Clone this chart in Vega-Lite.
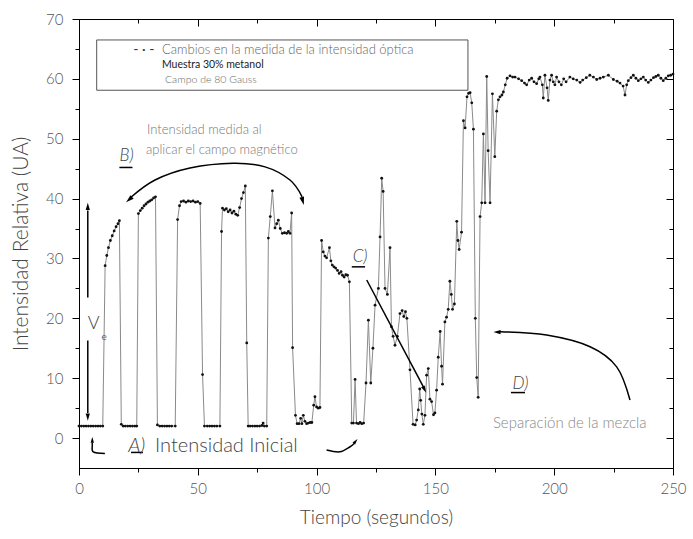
{
  "$schema": "https://vega.github.io/schema/vega-lite/v6.json",
  "width": 594,
  "height": 449,
  "autosize": {"type": "none"},
  "padding": {"left": 79, "top": 19, "right": 20, "bottom": 71},
  "background": "white",
  "config": {
    "view": {"stroke": "black", "strokeWidth": 1},
    "font": "Lato",
    "axis": {"domainColor": "black", "tickColor": "black", "labelColor": "#555", "labelFont": "Lato", "labelFontWeight": 300, "titleFont": "Lato", "titleFontWeight": 300, "titleColor": "#444", "grid": false, "labelFontSize": 15, "titleFontSize": 19}
  },
  "datasets": {
    "main": [
      {"t":0,"v":2},{"t":1,"v":2},{"t":2,"v":2},{"t":3,"v":2},{"t":4,"v":2},{"t":5,"v":2},{"t":6,"v":2},{"t":7,"v":2},{"t":8,"v":2},{"t":9,"v":2},{"t":10,"v":2},
      {"t":11,"v":28.8},{"t":11.7,"v":30.5},{"t":12.4,"v":31.8},{"t":13.2,"v":33},{"t":14,"v":33.8},{"t":14.8,"v":34.6},{"t":15.6,"v":35.3},{"t":16.4,"v":35.8},{"t":17,"v":36.3},
      {"t":17.8,"v":2.3},{"t":18.6,"v":2},{"t":19.5,"v":2},{"t":20.5,"v":2},{"t":21.5,"v":2},{"t":22.5,"v":2},{"t":23.5,"v":2},{"t":24.3,"v":2},
      {"t":25,"v":37.5},{"t":25.8,"v":38},{"t":26.6,"v":38.4},{"t":27.4,"v":38.8},{"t":28.2,"v":39.1},{"t":29,"v":39.4},{"t":29.8,"v":39.6},{"t":30.6,"v":39.8},{"t":31.4,"v":40.1},{"t":32.2,"v":40.3},
      {"t":33,"v":2.2},{"t":34,"v":2},{"t":35,"v":2},{"t":36,"v":2},{"t":37,"v":2},{"t":38,"v":2},{"t":39,"v":2},{"t":40.5,"v":2},
      {"t":41.5,"v":36.5},{"t":42.3,"v":38.8},{"t":43,"v":39.5},{"t":44,"v":39.6},{"t":45,"v":39.4},{"t":46,"v":39.6},{"t":47,"v":39.5},{"t":48,"v":39.6},{"t":49,"v":39.4},{"t":50,"v":39.5},{"t":51,"v":39.2},
      {"t":52,"v":10.6},{"t":52.8,"v":2},{"t":54,"v":2},{"t":55,"v":2},{"t":56,"v":2},{"t":57,"v":2},{"t":58,"v":2},{"t":59.3,"v":2},
      {"t":60,"v":34.5},{"t":60.4,"v":38.4},{"t":61.2,"v":38.1},{"t":62,"v":38.3},{"t":62.8,"v":37.8},{"t":63.6,"v":38.1},{"t":64.4,"v":37.6},{"t":65.2,"v":37.9},{"t":66,"v":37.4},{"t":66.8,"v":37.2},{"t":67.6,"v":38.5},{"t":68.4,"v":40},{"t":69.2,"v":41},{"t":70,"v":42.1},
      {"t":70.6,"v":15.9},{"t":71.2,"v":2},{"t":72,"v":2},{"t":73,"v":2},{"t":74,"v":2},{"t":75,"v":2},{"t":76,"v":2},{"t":77,"v":2.1},{"t":77.5,"v":2.5},{"t":78,"v":2},{"t":79,"v":2},
      {"t":79.7,"v":33.4},{"t":80.5,"v":37},{"t":81.4,"v":41.3},{"t":82.5,"v":35.1},{"t":83.2,"v":35.8},{"t":83.9,"v":36.4},{"t":84.7,"v":35},{"t":85.6,"v":34.2},{"t":86.5,"v":34.3},{"t":87.4,"v":34.2},{"t":88.1,"v":34.5},{"t":88.8,"v":34.2},{"t":89.5,"v":37.6},
      {"t":89.9,"v":15.1},{"t":91.1,"v":3.8},{"t":91.8,"v":2.4},{"t":92.6,"v":2.4},{"t":93.3,"v":3.3},{"t":93.8,"v":2.4},{"t":94.4,"v":3.8},{"t":95.1,"v":2.8},{"t":95.8,"v":2.4},{"t":96.5,"v":2.5},{"t":97.3,"v":2.6},{"t":98,"v":2.6},{"t":98.8,"v":5.5},{"t":99.3,"v":6.9},{"t":100,"v":5.2},{"t":100.7,"v":5},{"t":101.4,"v":5.1},
      {"t":102.1,"v":33},{"t":102.8,"v":31.1},{"t":103.5,"v":30.4},{"t":104.2,"v":30.1},{"t":105.4,"v":31.8},{"t":106,"v":29.6},{"t":106.6,"v":28.9},{"t":107.3,"v":28.6},{"t":108,"v":28.4},{"t":108.8,"v":28},{"t":109.5,"v":27.5},{"t":110.3,"v":27.8},{"t":110.9,"v":27.2},{"t":111.6,"v":26.9},{"t":112.3,"v":27.3},{"t":113,"v":27.2},{"t":113.8,"v":26.1},
      {"t":114.8,"v":2.5},{"t":115.5,"v":2.5},{"t":116.2,"v":9.8},{"t":116.8,"v":2.5},{"t":117.6,"v":2.4},{"t":118.3,"v":2.6},{"t":119,"v":2.4},{"t":119.8,"v":2.5},
      {"t":120.8,"v":9.2},{"t":121.8,"v":19.7},{"t":122.8,"v":9.2},{"t":123.7,"v":15},{"t":124.6,"v":22.2},{"t":126,"v":25},{"t":126.7,"v":33.6},{"t":127.4,"v":43.4},{"t":128,"v":41.2},{"t":128.8,"v":25},{"t":129.8,"v":24},{"t":130.9,"v":31.8},{"t":131.5,"v":18.6},{"t":132.2,"v":17},{"t":133,"v":15.5},{"t":134,"v":17},{"t":135.1,"v":20.8},{"t":136,"v":21.3},{"t":136.7,"v":20.3},{"t":137.4,"v":21.1},{"t":138,"v":20},
      {"t":139.3,"v":11.4},{"t":140.6,"v":2.3},{"t":141.5,"v":2.2},{"t":142.1,"v":3},{"t":142.8,"v":4.7},{"t":143.4,"v":8.2},{"t":143.8,"v":6.3},{"t":144.3,"v":4},{"t":144.9,"v":2.3},{"t":145.6,"v":3.8},{"t":146.3,"v":10.5},{"t":147,"v":11.6},{"t":147.7,"v":6.5},{"t":148.4,"v":6.1},{"t":149.2,"v":3.9},{"t":149.8,"v":4.2},{"t":150.5,"v":8},{"t":151.2,"v":13.5},{"t":152,"v":17.8},{"t":152.6,"v":12},{"t":153,"v":9},{"t":154,"v":19.4},{"t":154.7,"v":20.2},{"t":155.4,"v":21.5},{"t":156.1,"v":26.2},{"t":156.7,"v":24},{"t":157.2,"v":21.5},{"t":158,"v":22.4},{"t":159,"v":36.2},{"t":159.5,"v":33},{"t":160,"v":31.5},{"t":161,"v":34.4},{"t":161.8,"v":53},{"t":162.5,"v":51.8},{"t":163.3,"v":57},{"t":164,"v":57.6},{"t":164.6,"v":57.7},{"t":165.3,"v":56},{"t":166,"v":51.6},{"t":166.8,"v":20},{"t":167.4,"v":10.1},{"t":168,"v":6.8},{"t":168.8,"v":37},{"t":169.5,"v":39.3},{"t":170.2,"v":50.8},{"t":170.9,"v":39.3},{"t":171.6,"v":60.4},{"t":172.2,"v":48},{"t":173,"v":39.3},{"t":174,"v":57.5},{"t":175,"v":47},{"t":175.8,"v":54.6},{"t":176.5,"v":56.5},{"t":177.2,"v":57},{"t":178,"v":57.3},{"t":178.6,"v":57.8},{"t":179.4,"v":59},{"t":180.2,"v":60.1},{"t":181.4,"v":60.5},
      {"t":182.5,"v":60.3},{"t":183.5,"v":60.3},{"t":185,"v":60},{"t":186.3,"v":59.7},{"t":187.5,"v":59.3},{"t":188.4,"v":59},{"t":189.5,"v":59.8},{"t":190.5,"v":60.1},{"t":191.5,"v":59.5},{"t":192.6,"v":59.2},{"t":193.5,"v":60},{"t":194,"v":60.3},{"t":195,"v":59},{"t":195.4,"v":56.8},{"t":196.1,"v":60.6},{"t":197,"v":58.5},{"t":197.5,"v":56.4},{"t":198.2,"v":59.8},{"t":198.9,"v":60.6},{"t":199.6,"v":59.5},{"t":200.3,"v":59},{"t":201,"v":60.3},{"t":202,"v":59.5},{"t":203,"v":59},{"t":204,"v":60},{"t":205,"v":59.5},{"t":206.6,"v":60.3},{"t":208,"v":60},{"t":209.5,"v":59.8},{"t":210.9,"v":59.4},{"t":212,"v":59.8},{"t":213.5,"v":60.2},{"t":215,"v":60.6},{"t":216.5,"v":60.3},{"t":217.9,"v":59.9},{"t":219.3,"v":60.1},{"t":220.7,"v":60.3},{"t":222.8,"v":60.6},{"t":224.9,"v":59.9},{"t":226.5,"v":59.6},{"t":227.7,"v":59.3},{"t":229,"v":58.8},{"t":229.8,"v":57.3},{"t":230.5,"v":59},{"t":231.2,"v":59.7},{"t":232.3,"v":60.2},{"t":233.3,"v":60.6},{"t":234.4,"v":60.1},{"t":235.4,"v":59.7},{"t":236.5,"v":60},{"t":237.5,"v":60.3},{"t":238.5,"v":59.8},{"t":239.6,"v":59.4},{"t":240.7,"v":59.8},{"t":241.8,"v":60.2},{"t":242.8,"v":60.4},{"t":243.8,"v":60.6},{"t":244.9,"v":60.1},{"t":245.9,"v":59.7},{"t":247,"v":60.1},{"t":248,"v":60.5},{"t":249,"v":60.6},{"t":250,"v":60.8}
    ],
    "segs": [
      {"id":"ve1","i":0,"t":3.7,"v":38.0},{"id":"ve1","i":1,"t":3.7,"v":23.5},
      {"id":"ve2","i":0,"t":3.7,"v":16.3},{"id":"ve2","i":1,"t":3.7,"v":4.2},
      {"id":"carr","i":0,"t":121.1,"v":26.4},{"id":"carr","i":1,"t":145.0,"v":8.5},
      {"id":"uB","i":0,"t":17,"v":45.2},{"id":"uB","i":1,"t":22.5,"v":45.2},
      {"id":"uC","i":0,"t":114.8,"v":28.6},{"id":"uC","i":1,"t":120.4,"v":28.6},
      {"id":"uD","i":0,"t":181.8,"v":7.6},{"id":"uD","i":1,"t":187.7,"v":7.6},
      {"id":"uA","i":0,"t":21.9,"v":-2.4},{"id":"uA","i":1,"t":26.9,"v":-2.4}
    ],
    "curves": [
      {"id":"b","i":0,"t":21.5,"v":40.1},{"id":"b","i":1,"t":32,"v":43.1},{"id":"b","i":2,"t":46.7,"v":45.1},{"id":"b","i":3,"t":64.8,"v":45.9},{"id":"b","i":4,"t":78.3,"v":45.3},{"id":"b","i":5,"t":88.8,"v":43.1},{"id":"b","i":6,"t":93.9,"v":40.3},
      {"id":"d","i":0,"t":231.9,"v":6.35},{"id":"d","i":1,"t":226.3,"v":11.9},{"id":"d","i":2,"t":215.1,"v":15.25},{"id":"d","i":3,"t":196.8,"v":17.2},{"id":"d","i":4,"t":177.2,"v":17.75},
      {"id":"al","i":0,"t":10.9,"v":-2.56},{"id":"al","i":1,"t":6.0,"v":-2.29},{"id":"al","i":2,"t":5.6,"v":-1.17},{"id":"al","i":3,"t":5.6,"v":-0.75},
      {"id":"ar","i":0,"t":104.2,"v":-2.0},{"id":"ar","i":1,"t":109.8,"v":-2.3},{"id":"ar","i":2,"t":114.1,"v":-1.45},{"id":"ar","i":3,"t":115.8,"v":-0.9}
    ]
  },
  "layer": [
    {
      "layer": [
        {
          "data": {"values": [{"t": 7.45, "t2": 163.7, "v": 58.1, "v2": 66.5}]},
          "mark": {"type": "rect", "fill": "white", "stroke": "#555", "strokeWidth": 1},
          "encoding": {
            "x": {"field": "t", "type": "quantitative", "scale": {"domain": [0, 250], "nice": false, "zero": false},
              "axis": {"orient": "top", "values": [0,25,50,75,100,125,150,175,200,225,250], "labelExpr": "''", "title": null, "domain": false, "ticks": true, "tickSize": {"condition": {"test": "datum.value % 50 === 0", "value": -7}, "value": -4}}},
            "y": {"field": "v", "type": "quantitative", "scale": {"domain": [-5, 70], "nice": false, "zero": false},
              "axis": {"orient": "right", "values": [0,5,10,15,20,25,30,35,40,45,50,55,60,65,70], "labelExpr": "''", "title": null, "domain": false, "ticks": true, "tickSize": {"condition": {"test": "datum.value % 10 === 0", "value": -7}, "value": -4}}},
            "x2": {"field": "t2"}, "y2": {"field": "v2"}}
        },
        {
          "data": {"name": "main"},
          "mark": {"type": "line", "color": "#8a8a8a", "strokeWidth": 1},
          "encoding": {
            "x": {"field": "t", "type": "quantitative", "scale": {"domain": [0, 250], "nice": false, "zero": false},
              "axis": {"orient": "bottom", "values": [0,25,50,75,100,125,150,175,200,225,250], "labelExpr": "datum.value % 50 === 0 ? datum.label : ''", "tickSize": {"condition": {"test": "datum.value % 50 === 0", "value": 7}, "value": 4}, "labelPadding": 6, "labelOverlap": false, "labelFlush": false, "title": "Tiempo (segundos)", "titlePadding": 12}},
            "y": {"field": "v", "type": "quantitative", "scale": {"domain": [-5, 70], "nice": false, "zero": false},
              "axis": {"orient": "left", "values": [0,5,10,15,20,25,30,35,40,45,50,55,60,65,70], "labelExpr": "datum.value % 10 === 0 ? datum.label : ''", "tickSize": {"condition": {"test": "datum.value % 10 === 0", "value": 7}, "value": 4}, "labelPadding": 9, "labelOverlap": false, "labelFlush": false, "title": "Intensidad Relativa (UA)", "titleFontSize": 21, "titlePadding": 14}}
          }
        }
      ],
      "resolve": {"axis": {"x": "independent", "y": "independent"}}
    },
    {
      "data": {"name": "main"},
      "mark": {"type": "point", "filled": true, "color": "#111", "size": 8, "opacity": 1},
      "encoding": {
        "x": {"field": "t", "type": "quantitative", "scale": {"domain": [0, 250], "nice": false, "zero": false}, "axis": null},
        "y": {"field": "v", "type": "quantitative", "scale": {"domain": [-5, 70], "nice": false, "zero": false}, "axis": null}
      }
    },
    {
      "data": {"name": "segs"},
      "mark": {"type": "line", "color": "black", "strokeWidth": 1.5},
      "encoding": {
        "x": {"field": "t", "type": "quantitative", "scale": {"domain": [0, 250], "nice": false, "zero": false}, "axis": null},
        "y": {"field": "v", "type": "quantitative", "scale": {"domain": [-5, 70], "nice": false, "zero": false}, "axis": null},
        "detail": {"field": "id"}, "order": {"field": "i", "type": "quantitative"}}
    },
    {
      "data": {"name": "curves"},
      "mark": {"type": "line", "color": "black", "strokeWidth": 1.5, "interpolate": "cardinal"},
      "encoding": {
        "x": {"field": "t", "type": "quantitative", "scale": {"domain": [0, 250], "nice": false, "zero": false}, "axis": null},
        "y": {"field": "v", "type": "quantitative", "scale": {"domain": [-5, 70], "nice": false, "zero": false}, "axis": null},
        "detail": {"field": "id"}, "order": {"field": "i", "type": "quantitative"}}
    },
    {
      "data": {"values": [{"t": 21.3, "v": 39.9}]},
      "mark": {"type": "point", "shape": "M0,-1L0.5,0.7L-0.5,0.7Z", "filled": true, "color": "black", "size": 90, "angle": 228, "opacity": 1},
      "encoding": {"x": {"field": "t", "type": "quantitative", "scale": {"domain": [0, 250], "nice": false, "zero": false}, "axis": null}, "y": {"field": "v", "type": "quantitative", "scale": {"domain": [-5, 70], "nice": false, "zero": false}, "axis": null}}
    },
    {
      "data": {"values": [{"t": 94.1, "v": 39.7}]},
      "mark": {"type": "point", "shape": "M0,-1L0.5,0.7L-0.5,0.7Z", "filled": true, "color": "black", "size": 90, "angle": 165, "opacity": 1},
      "encoding": {"x": {"field": "t", "type": "quantitative", "scale": {"domain": [0, 250], "nice": false, "zero": false}, "axis": null}, "y": {"field": "v", "type": "quantitative", "scale": {"domain": [-5, 70], "nice": false, "zero": false}, "axis": null}}
    },
    {
      "data": {"values": [{"t": 3.7, "v": 38.6}]},
      "mark": {"type": "point", "shape": "M0,-1L0.5,0.7L-0.5,0.7Z", "filled": true, "color": "black", "size": 70, "angle": 0, "opacity": 1},
      "encoding": {"x": {"field": "t", "type": "quantitative", "scale": {"domain": [0, 250], "nice": false, "zero": false}, "axis": null}, "y": {"field": "v", "type": "quantitative", "scale": {"domain": [-5, 70], "nice": false, "zero": false}, "axis": null}}
    },
    {
      "data": {"values": [{"t": 3.7, "v": 3.6}]},
      "mark": {"type": "point", "shape": "M0,-1L0.5,0.7L-0.5,0.7Z", "filled": true, "color": "black", "size": 70, "angle": 180, "opacity": 1},
      "encoding": {"x": {"field": "t", "type": "quantitative", "scale": {"domain": [0, 250], "nice": false, "zero": false}, "axis": null}, "y": {"field": "v", "type": "quantitative", "scale": {"domain": [-5, 70], "nice": false, "zero": false}, "axis": null}}
    },
    {
      "data": {"values": [{"t": 5.6, "v": -0.4}]},
      "mark": {"type": "point", "shape": "M0,-1L0.5,0.7L-0.5,0.7Z", "filled": true, "color": "black", "size": 45, "angle": 0, "opacity": 1},
      "encoding": {"x": {"field": "t", "type": "quantitative", "scale": {"domain": [0, 250], "nice": false, "zero": false}, "axis": null}, "y": {"field": "v", "type": "quantitative", "scale": {"domain": [-5, 70], "nice": false, "zero": false}, "axis": null}}
    },
    {
      "data": {"values": [{"t": 116.3, "v": -0.6}]},
      "mark": {"type": "point", "shape": "M0,-1L0.5,0.7L-0.5,0.7Z", "filled": true, "color": "black", "size": 45, "angle": 40, "opacity": 1},
      "encoding": {"x": {"field": "t", "type": "quantitative", "scale": {"domain": [0, 250], "nice": false, "zero": false}, "axis": null}, "y": {"field": "v", "type": "quantitative", "scale": {"domain": [-5, 70], "nice": false, "zero": false}, "axis": null}}
    },
    {
      "data": {"values": [{"t": 145.3, "v": 8.2}]},
      "mark": {"type": "point", "shape": "M0,-1L0.5,0.7L-0.5,0.7Z", "filled": true, "color": "black", "size": 70, "angle": 152, "opacity": 1},
      "encoding": {"x": {"field": "t", "type": "quantitative", "scale": {"domain": [0, 250], "nice": false, "zero": false}, "axis": null}, "y": {"field": "v", "type": "quantitative", "scale": {"domain": [-5, 70], "nice": false, "zero": false}, "axis": null}}
    },
    {
      "data": {"values": [{"t": 176.2, "v": 17.7}]},
      "mark": {"type": "point", "shape": "M0,-1L0.5,0.7L-0.5,0.7Z", "filled": true, "color": "black", "size": 70, "angle": 272, "opacity": 1},
      "encoding": {"x": {"field": "t", "type": "quantitative", "scale": {"domain": [0, 250], "nice": false, "zero": false}, "axis": null}, "y": {"field": "v", "type": "quantitative", "scale": {"domain": [-5, 70], "nice": false, "zero": false}, "axis": null}}
    },
    {
      "data": {"values": [{"t": 27.3, "v": 64.9, "label": "-  ·  -"}]},
      "mark": {"type": "text", "fontSize": 14, "color": "#333", "align": "center", "baseline": "middle", "font": "Lato"},
      "encoding": {"x": {"field": "t", "type": "quantitative", "scale": {"domain": [0, 250], "nice": false, "zero": false}, "axis": null}, "y": {"field": "v", "type": "quantitative", "scale": {"domain": [-5, 70], "nice": false, "zero": false}, "axis": null}, "text": {"field": "label"}}
    },
    {
      "data": {"values": [{"t": 34.9, "v": 64.8, "label": "Cambios en la medida de la intensidad óptica"}]},
      "mark": {"type": "text", "fontSize": 13, "color": "#666", "align": "left", "baseline": "middle", "font": "Lato", "fontWeight": 300},
      "encoding": {"x": {"field": "t", "type": "quantitative", "scale": {"domain": [0, 250], "nice": false, "zero": false}, "axis": null}, "y": {"field": "v", "type": "quantitative", "scale": {"domain": [-5, 70], "nice": false, "zero": false}, "axis": null}, "text": {"field": "label"}}
    },
    {
      "data": {"values": [{"t": 34.9, "v": 62.3, "label": "Muestra 30% metanol"}]},
      "mark": {"type": "text", "fontSize": 10.5, "color": "#222", "align": "left", "baseline": "middle", "font": "Lato"},
      "encoding": {"x": {"field": "t", "type": "quantitative", "scale": {"domain": [0, 250], "nice": false, "zero": false}, "axis": null}, "y": {"field": "v", "type": "quantitative", "scale": {"domain": [-5, 70], "nice": false, "zero": false}, "axis": null}, "text": {"field": "label"}}
    },
    {
      "data": {"values": [{"t": 36.2, "v": 59.8, "label": "Campo de 80 Gauss"}]},
      "mark": {"type": "text", "fontSize": 10.5, "color": "#666", "align": "left", "baseline": "middle", "font": "Lato", "fontWeight": 300},
      "encoding": {"x": {"field": "t", "type": "quantitative", "scale": {"domain": [0, 250], "nice": false, "zero": false}, "axis": null}, "y": {"field": "v", "type": "quantitative", "scale": {"domain": [-5, 70], "nice": false, "zero": false}, "axis": null}, "text": {"field": "label"}}
    },
    {
      "data": {"values": [{"t": 28.6, "v": 51.4, "label": "Intensidad medida al"}, {"t": 28.2, "v": 48.1, "label": "aplicar el campo magnético"}]},
      "mark": {"type": "text", "fontSize": 13, "color": "#777", "align": "left", "baseline": "middle", "font": "Lato", "fontWeight": 300},
      "encoding": {"x": {"field": "t", "type": "quantitative", "scale": {"domain": [0, 250], "nice": false, "zero": false}, "axis": null}, "y": {"field": "v", "type": "quantitative", "scale": {"domain": [-5, 70], "nice": false, "zero": false}, "axis": null}, "text": {"field": "label"}}
    },
    {
      "data": {"values": [{"t": 20, "v": 47.1, "label": "B)"}, {"t": 118.3, "v": 30.3, "label": "C)"}, {"t": 185.8, "v": 9.0, "label": "D)"}]},
      "mark": {"type": "text", "fontSize": 17, "color": "#444", "align": "center", "baseline": "middle", "font": "Lato", "fontStyle": "italic", "fontWeight": 300},
      "encoding": {"x": {"field": "t", "type": "quantitative", "scale": {"domain": [0, 250], "nice": false, "zero": false}, "axis": null}, "y": {"field": "v", "type": "quantitative", "scale": {"domain": [-5, 70], "nice": false, "zero": false}, "axis": null}, "text": {"field": "label"}}
    },
    {
      "data": {"values": [{"t": 24.3, "v": -1.4, "label": "A)"}]},
      "mark": {"type": "text", "fontSize": 20, "color": "#444", "align": "center", "baseline": "middle", "font": "Lato", "fontStyle": "italic", "fontWeight": 300},
      "encoding": {"x": {"field": "t", "type": "quantitative", "scale": {"domain": [0, 250], "nice": false, "zero": false}, "axis": null}, "y": {"field": "v", "type": "quantitative", "scale": {"domain": [-5, 70], "nice": false, "zero": false}, "axis": null}, "text": {"field": "label"}}
    },
    {
      "data": {"values": [{"t": 32, "v": -1.4, "label": "Intensidad Inicial"}]},
      "mark": {"type": "text", "fontSize": 20, "color": "#444", "align": "left", "baseline": "middle", "font": "Lato", "fontWeight": 300},
      "encoding": {"x": {"field": "t", "type": "quantitative", "scale": {"domain": [0, 250], "nice": false, "zero": false}, "axis": null}, "y": {"field": "v", "type": "quantitative", "scale": {"domain": [-5, 70], "nice": false, "zero": false}, "axis": null}, "text": {"field": "label"}}
    },
    {
      "data": {"values": [{"t": 6.2, "v": 19.0, "label": "V"}]},
      "mark": {"type": "text", "fontSize": 18, "color": "#444", "align": "center", "baseline": "middle", "font": "Lato", "fontWeight": 300},
      "encoding": {"x": {"field": "t", "type": "quantitative", "scale": {"domain": [0, 250], "nice": false, "zero": false}, "axis": null}, "y": {"field": "v", "type": "quantitative", "scale": {"domain": [-5, 70], "nice": false, "zero": false}, "axis": null}, "text": {"field": "label"}}
    },
    {
      "data": {"values": [{"t": 10.6, "v": 16.8, "label": "e"}]},
      "mark": {"type": "text", "fontSize": 10, "color": "#666", "align": "center", "baseline": "middle", "font": "Lato"},
      "encoding": {"x": {"field": "t", "type": "quantitative", "scale": {"domain": [0, 250], "nice": false, "zero": false}, "axis": null}, "y": {"field": "v", "type": "quantitative", "scale": {"domain": [-5, 70], "nice": false, "zero": false}, "axis": null}, "text": {"field": "label"}}
    },
    {
      "data": {"values": [{"t": 174.2, "v": 2.5, "label": "Separación de la mezcla"}]},
      "mark": {"type": "text", "fontSize": 15, "color": "#888", "align": "left", "baseline": "middle", "font": "Lato", "fontWeight": 300},
      "encoding": {"x": {"field": "t", "type": "quantitative", "scale": {"domain": [0, 250], "nice": false, "zero": false}, "axis": null}, "y": {"field": "v", "type": "quantitative", "scale": {"domain": [-5, 70], "nice": false, "zero": false}, "axis": null}, "text": {"field": "label"}}
    }
  ],
  "resolve": {"axis": {"x": "independent", "y": "independent"}}
}
